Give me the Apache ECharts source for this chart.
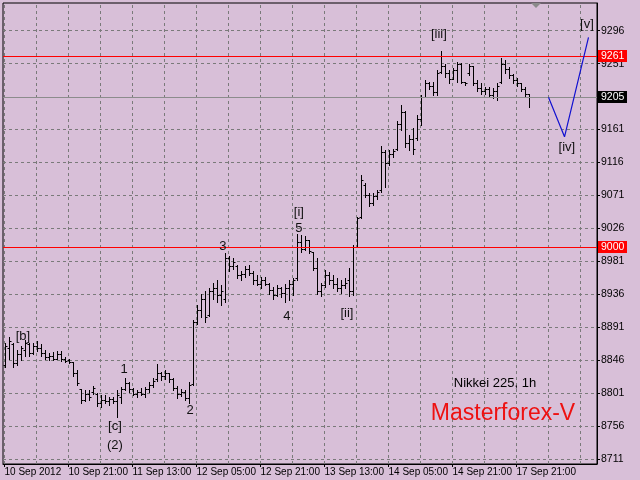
<!DOCTYPE html>
<html><head><meta charset="utf-8">
<script src="https://cdn.jsdelivr.net/npm/echarts@6/dist/echarts.min.js"></script>
<style>html,body{margin:0;padding:0;background:#d8bfd8}#c{width:640px;height:480px}</style>
</head><body><div id="c"></div>
<script>
// ---- data ----
const timeLabels = ["10 Sep 2012","10 Sep 21:00","11 Sep 13:00","12 Sep 05:00","12 Sep 21:00","13 Sep 13:00","14 Sep 05:00","14 Sep 21:00","17 Sep 21:00"];
const timeLabelIdx = [0,16,32,48,64,80,96,112,128];
const gridX = [0,8,16,24,32,40,48,56,64,72,80,88,96,104,112,120,128,136,144];
const priceTicks = [8711,8756,8801,8846,8891,8936,8981,9026,9071,9116,9161,9205,9251,9296];
const barOpen = [8840,8862,8868,8842,8855,8860,8868,8856,8866,8862,8856,8850,8852,8848,8855,8848,
8846,8843,8828,8806,8792,8800,8802,8800,8788,8792,8790,8793,8790,8796,8806,8815,
8806,8800,8803,8800,8806,8812,8820,8828,8825,8828,8820,8808,8800,8802,8794,8814,
8898,8915,8930,8908,8940,8945,8935,8930,8985,8975,8975,8962,8964,8970,8965,8955,
8950,8956,8950,8942,8935,8945,8938,8945,8950,8958,9008,8998,9010,8994,8972,8940,
8948,8962,8955,8950,8944,8948,8955,8940,9001,9042,9085,9072,9060,9070,9078,9130,
9115,9128,9135,9168,9185,9142,9148,9150,9175,9206,9225,9220,9212,9240,9248,9238,
9230,9242,9250,9226,9238,9248,9225,9218,9214,9216,9208,9214,9226,9250,9244,9236,
9228,9224,9216,9210];
const barHigh = [8870,8878,8870,8860,8866,8874,8870,8870,8872,8868,8860,8856,8857,8858,8858,8850,
8847,8844,8832,8806,8805,8805,8811,8801,8798,8798,8796,8796,8805,8809,8821,8816,
8808,8805,8808,8810,8816,8821,8841,8830,8832,8828,8821,8811,8806,8805,8816,8901,
8922,8937,8940,8945,8952,8955,8948,8992,8988,8986,8976,8968,8974,8976,8968,8962,
8960,8960,8952,8946,8948,8946,8950,8955,8958,9019,9017,9015,9010,8994,8985,8951,
8969,8966,8962,8958,8955,8958,8972,9003,9042,9099,9088,9074,9074,9078,9138,9133,
9133,9135,9172,9195,9186,9153,9163,9181,9208,9229,9226,9226,9242,9268,9251,9242,
9245,9253,9252,9226,9251,9248,9228,9224,9219,9219,9218,9224,9259,9256,9247,9237,
9231,9225,9219,9210];
const barLow = [8836,8848,8836,8839,8846,8852,8852,8855,8858,8852,8848,8846,8846,8847,8845,8843,
8842,8825,8812,8788,8790,8792,8800,8783,8782,8787,8785,8787,8768,8787,8805,8802,
8798,8796,8798,8796,8802,8809,8818,8819,8820,8816,8805,8795,8797,8791,8787,8812,
8896,8905,8898,8906,8930,8925,8922,8925,8968,8970,8958,8955,8960,8962,8950,8948,
8945,8948,8937,8930,8934,8932,8926,8928,8935,8955,8994,8996,8992,8969,8937,8933,
8946,8950,8944,8940,8938,8945,8933,8935,9000,9040,9069,9056,9058,9066,9076,9083,
9112,9124,9133,9160,9137,9133,9128,9147,9167,9206,9217,9208,9208,9238,9233,9224,
9230,9226,9224,9222,9236,9222,9214,9210,9210,9205,9204,9201,9224,9238,9232,9224,
9220,9213,9206,9192];
const barClose = [8865,8872,8842,8855,8862,8870,8856,8866,8862,8856,8850,8852,8848,8855,8848,8845,
8843,8828,8815,8792,8800,8796,8808,8788,8792,8790,8793,8790,8798,8806,8815,8806,
8800,8803,8800,8806,8812,8818,8828,8825,8828,8820,8808,8800,8802,8794,8812,8898,
8915,8930,8905,8940,8945,8935,8940,8985,8975,8980,8962,8964,8970,8965,8955,8950,
8956,8950,8942,8935,8945,8938,8945,8950,8955,9008,8998,9010,8995,8972,8940,8948,
8962,8955,8950,8944,8948,8952,8940,9000,9040,9092,9072,9060,9070,9075,9130,9115,
9128,9132,9168,9185,9142,9148,9135,9175,9205,9225,9220,9212,9238,9248,9238,9230,
9242,9250,9226,9224,9248,9225,9218,9214,9216,9208,9214,9220,9250,9244,9236,9228,
9224,9216,9210,9205];
const levelLines = [9261, 9000];
const currentPrice = 9205;
const projX = [136, 140, 146];
const projY = [9205, 9151, 9287];
const waveText = ["[b]","1","[c]","(2)","2","3","4","[i]","5","[ii]","[iii]","[iv]","[v]"];
const waveX = [4.6, 29.9, 27.6, 27.6, 46.4, 54.6, 70.6, 73.6, 73.6, 85.6, 108.6, 140.6, 145.6];
const waveY = [8879, 8834, 8756, 8730, 8778, 9001, 8906, 9048, 9026, 8910, 9291, 9136, 9305];

// ---- chart ----
const FONT = 'Liberation Sans';
const X_MIN = -0.375, X_MAX = 148.125;
const bars = barOpen.map((o, i) => [i, o, barClose[i], barLow[i], barHigh[i]]);
const chart = echarts.init(document.getElementById('c'), null, {renderer: 'canvas'});

function renderItem(params, api) {
  const i = api.value(0);
  const o = api.coord([i, api.value(1)]);
  const c = api.coord([i, api.value(2)]);
  const l = api.coord([i, api.value(3)]);
  const h = api.coord([i, api.value(4)]);
  const x = Math.round(o[0]) + 0.5;
  const st = {stroke: '#000', lineWidth: 1};
  const oy = Math.round(o[1]) + 0.5, cy = Math.round(c[1]) + 0.5;
  return {type: 'group', children: [
    {type: 'line', shape: {x1: x, y1: Math.round(h[1]), x2: x, y2: Math.round(l[1]) + 1}, style: st},
    {type: 'line', shape: {x1: x - 2, y1: oy, x2: x, y2: oy}, style: st},
    {type: 'line', shape: {x1: x, y1: cy, x2: x + 2, y2: cy}, style: st}
  ]};
}

function levelRender(lineColor, boxColor) {
  return function (params, api) {
    const v = api.value(0);
    const p = api.coord([X_MIN, v]);
    const q = api.coord([X_MAX, v]);
    const y = Math.round(p[1]) + 0.5;
    return {type: 'group', children: [
      {type: 'line', shape: {x1: p[0], y1: y, x2: q[0], y2: y}, style: {stroke: lineColor, lineWidth: 1}},
      {type: 'rect', shape: {x: q[0] + 1, y: y - 6.5, width: 29, height: 12}, style: {fill: boxColor}},
      {type: 'text', x: q[0] + 4, y: y, style: {text: String(v), fill: '#fff', font: '10.5px ' + FONT, textVerticalAlign: 'middle'}}
    ]};
  };
}

function waveRender(params, api) {
  const p = api.coord([api.value(0), api.value(1)]);
  return {type: 'text', x: p[0], y: p[1],
    style: {text: waveText[params.dataIndex], fill: '#111', font: '13px ' + FONT, textAlign: 'center', textVerticalAlign: 'middle'}};
}

const gridLineStyle = {color: '#7a7a7a', type: [3, 3], width: 1};

chart.setOption({
  animation: false,
  backgroundColor: '#d8bfd8',
  grid: {left: 3, right: 43, top: 3, bottom: 16, show: true, backgroundColor: '#d8bfd8', borderColor: '#000', borderWidth: 1},
  xAxis: {
    type: 'value', min: X_MIN, max: X_MAX,
    axisLine: {show: true, onZero: false, lineStyle: {color: '#000'}},
    axisTick: {show: true, length: 3, lineStyle: {color: '#000'}, customValues: timeLabelIdx},
    axisLabel: {customValues: timeLabelIdx, formatter: v => timeLabels[timeLabelIdx.indexOf(Math.round(v))] || '',
      align: 'left', margin: 3, fontSize: 10, color: '#000', fontFamily: FONT, showMinLabel: true, showMaxLabel: true},
    splitLine: {show: false}
  },
  yAxis: {
    type: 'value', position: 'right', min: 8704.2, max: 9333.8,
    axisLine: {show: true, onZero: false, lineStyle: {color: '#000'}},
    axisTick: {show: true, length: 3, lineStyle: {color: '#000'}, customValues: priceTicks},
    axisLabel: {customValues: priceTicks, formatter: v => String(v), margin: 4, fontSize: 10.5, color: '#000', fontFamily: FONT},
    splitLine: {show: false}
  },
  graphic: [
    {type: 'polygon', shape: {points: [[531, 3], [541, 3], [536, 8]]}, style: {fill: '#8a8a8a'}, z: 100},
    {type: 'text', x: 495, y: 383, style: {text: 'Nikkei 225, 1h', font: '13px ' + FONT, fill: '#000', textAlign: 'center', textVerticalAlign: 'middle'}, z: 100},
    {type: 'text', x: 503, y: 414, style: {text: 'Masterforex-V', font: '23px ' + FONT, fill: '#ee1111', textAlign: 'center', textVerticalAlign: 'middle'}, z: 100}
  ],
  series: [
    {
      type: 'line', data: [], z: 1, silent: true,
      markLine: {
        silent: true, symbol: ['none', 'none'], label: {show: false}, lineStyle: gridLineStyle, animation: false,
        data: gridX.map(v => ({xAxis: v})).concat(priceTicks.map(v => ({yAxis: v})))
      }
    },
    {type: 'custom', renderItem: renderItem, data: bars, z: 5, encode: {x: 0, y: [1, 2, 3, 4]}},
    {type: 'custom', renderItem: levelRender('#8c8c8c', '#000000'), data: [[currentPrice]], encode: {y: 0}, z: 8, silent: true, clip: false},
    {type: 'custom', renderItem: levelRender('#ff0000', '#ff0000'), data: levelLines.map(v => [v]), encode: {y: 0}, z: 9, silent: true, clip: false},
    {type: 'line', data: projX.map((x, i) => [x, projY[i]]), symbol: 'none', z: 10,
      lineStyle: {color: '#1010d0', width: 1.2}},
    {type: 'custom', renderItem: waveRender, z: 11, silent: true, clip: false,
      data: waveX.map((x, i) => [x, waveY[i]]), encode: {x: 0, y: 1}}
  ]
});
</script>
</body></html>
